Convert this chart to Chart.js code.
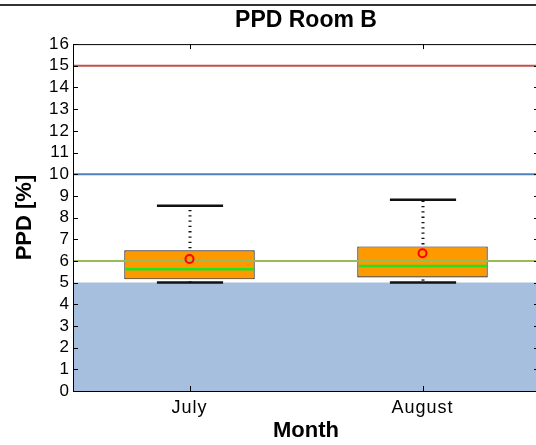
<!DOCTYPE html>
<html>
<head>
<meta charset="utf-8">
<script src="https://cdn.jsdelivr.net/npm/chart.js@4.4.1/dist/chart.umd.min.js"></script>
<style>
  html, body { margin: 0; padding: 0; background: #fff; overflow: hidden; }
  #wrap { width: 545px; height: 445px; }
</style>
</head>
<body>
<div id="wrap"><canvas id="ppdChart"></canvas></div>
<script>
// Box plot data per month (PPD %)
const months = ['July', 'August'];
const boxLow = [5.15, 5.24];      // lower quartile
const boxHigh = [6.49, 6.67];     // upper quartile
const medians = [5.62, 5.76];
const means = [6.09, 6.35];
const whiskerLow = [5.0, 5.0];
const whiskerHigh = [8.54, 8.82];

// Reference levels
const limitRed = 15;
const limitBlue = 10;
const limitGreen = 6;
const bandTop = 5;

const yTicks = [0, 1, 2, 3, 4, 5, 6, 7, 8, 9, 10, 11, 12, 13, 14, 15, 16];

const flatLine = v => [{ x: 0.5, y: v }, { x: 2.5, y: v }];

const boxPlotExtras = {
    id: 'boxPlotExtras',
    beforeDraw(chart) {
        const { ctx, width } = chart;
        ctx.letterSpacing = '0px';
        ctx.save();
        ctx.strokeStyle = '#333';
        ctx.lineWidth = 2;
        ctx.beginPath();
        ctx.moveTo(0, 5);
        ctx.lineTo(width, 5);
        ctx.stroke();
        ctx.restore();
    },
    afterDatasetsDraw(chart) {
        const { ctx, scales: { x, y } } = chart;
        const boxMeta = chart.getDatasetMeta(0);
        const step = x.getPixelForValue(1) - x.getPixelForValue(0);
        const seg = (x1, y1, x2, y2) => {
            ctx.beginPath();
            ctx.moveTo(x1, y1);
            ctx.lineTo(x2, y2);
            ctx.stroke();
        };
        ctx.save();
        months.forEach((m, i) => {
            const cx = Math.round(x.getPixelForValue(i));
            const half = boxMeta.data[i].width / 2;
            const capHalf = step * 0.142;

            // dotted whiskers
            ctx.strokeStyle = '#111';
            ctx.lineWidth = 3;
            ctx.setLineDash([1.3, 4]);
            seg(cx, y.getPixelForValue(boxHigh[i]) - 2, cx, y.getPixelForValue(whiskerHigh[i]));
            seg(cx, y.getPixelForValue(boxLow[i]) + 2, cx, y.getPixelForValue(whiskerLow[i]));
            ctx.setLineDash([]);

            // whisker caps
            ctx.lineWidth = 2.5;
            seg(cx - capHalf, y.getPixelForValue(whiskerHigh[i]), cx + capHalf, y.getPixelForValue(whiskerHigh[i]));
            seg(cx - capHalf, y.getPixelForValue(whiskerLow[i]), cx + capHalf, y.getPixelForValue(whiskerLow[i]));

            // median
            ctx.strokeStyle = '#22e022';
            ctx.lineWidth = 2.5;
            seg(cx - half + 1, y.getPixelForValue(medians[i]), cx + half - 1, y.getPixelForValue(medians[i]));
        });
        ctx.restore();
        // tick labels are drawn after this hook (ticks.z = 1): give them the wider spacing of the original
        ctx.letterSpacing = '1px';
    },
    afterDraw(chart) {
        const { ctx, chartArea: a, scales: { x, y } } = chart;
        ctx.letterSpacing = '0px';
        ctx.save();
        ctx.lineWidth = 1;
        ctx.strokeStyle = '#000';
        ctx.strokeRect(a.left + 0.5, a.top + 0.5, a.right - a.left - 1, a.bottom - a.top);
        // inward tick marks
        ctx.beginPath();
        yTicks.forEach(v => {
            const py = Math.round(y.getPixelForValue(v)) + 0.5;
            ctx.moveTo(a.left, py); ctx.lineTo(a.left + 5, py);
            ctx.moveTo(a.right, py); ctx.lineTo(a.right - 5, py);
        });
        months.forEach((m, i) => {
            const px = Math.round(x.getPixelForValue(i)) + 0.5;
            ctx.moveTo(px, a.bottom); ctx.lineTo(px, a.bottom - 5);
            ctx.moveTo(px, a.top); ctx.lineTo(px, a.top + 5);
        });
        ctx.stroke();
        ctx.restore();
    }
};

const ctx = document.getElementById('ppdChart').getContext('2d');

new Chart(ctx, {
    type: 'bar',
    data: {
        labels: months,
        datasets: [
            {
                label: 'Box',
                data: months.map((m, i) => [boxLow[i], boxHigh[i]]),
                backgroundColor: '#ff9900',
                borderColor: '#222',
                borderWidth: 1.2,
                borderSkipped: false,
                grouped: false,
                barPercentage: 0.56,
                categoryPercentage: 1,
                order: 5
            },
            {
                type: 'line',
                label: 'Mean',
                data: means,
                showLine: false,
                pointStyle: 'circle',
                pointRadius: 4,
                pointBorderWidth: 2,
                pointBorderColor: '#ff0000',
                pointBackgroundColor: 'rgba(0,0,0,0)',
                order: 1
            },
            {
                type: 'line',
                label: 'Limit 15',
                xAxisID: 'x2',
                data: flatLine(limitRed),
                borderColor: '#c0504d',
                borderWidth: 2,
                pointRadius: 0,
                order: 3
            },
            {
                type: 'line',
                label: 'Limit 10',
                xAxisID: 'x2',
                data: flatLine(limitBlue),
                borderColor: '#4f81bd',
                borderWidth: 2,
                pointRadius: 0,
                order: 3
            },
            {
                type: 'line',
                label: 'Limit 6',
                xAxisID: 'x2',
                data: flatLine(limitGreen),
                borderColor: '#9bbb59',
                borderWidth: 2,
                pointRadius: 0,
                order: 3
            },
            {
                type: 'line',
                label: 'Band',
                xAxisID: 'x2',
                data: flatLine(bandTop),
                borderWidth: 0,
                pointRadius: 0,
                backgroundColor: '#a7bfde',
                fill: 'origin',
                order: 10
            }
        ]
    },
    options: {
        responsive: true,
        maintainAspectRatio: false,
        animation: false,
        layout: { padding: 0 },
        plugins: {
            legend: { display: false },
            tooltip: { enabled: false },
            title: {
                display: true,
                fullSize: false,
                text: 'PPD Room B',
                color: '#000',
                font: { family: 'Arial, "Liberation Sans"', size: 23, weight: 'bold' },
                padding: { top: 7, bottom: 9.5 }
            }
        },
        scales: {
            x: {
                type: 'category',
                offset: true,
                grid: { display: false, drawTicks: false },
                border: { display: false },
                ticks: {
                    z: 1,
                    color: '#000',
                    padding: 6,
                    font: { family: 'Arial, "Liberation Sans"', size: 18 }
                },
                title: {
                    display: true,
                    text: 'Month',
                    color: '#000',
                    font: { family: 'Arial, "Liberation Sans"', size: 22, weight: 'bold' },
                    padding: { top: 0, bottom: 1 }
                },
                afterFit: s => { s.height = 54; }
            },
            x2: {
                type: 'linear',
                display: false,
                offset: false,
                min: 0.5,
                max: 2.5
            },
            y: {
                min: 0,
                max: 16,
                grid: { display: false, drawTicks: false },
                border: { display: false },
                ticks: {
                    z: 1,
                    stepSize: 1,
                    autoSkip: false,
                    color: '#000',
                    padding: 3,
                    font: { family: 'Arial, "Liberation Sans"', size: 17 }
                },
                title: {
                    display: true,
                    text: 'PPD [%]',
                    color: '#000',
                    font: { family: 'Arial, "Liberation Sans"', size: 22, weight: 'bold' },
                    padding: { top: 12, bottom: 0 }
                },
                afterFit: s => { s.width = 73; }
            }
        }
    },
    plugins: [boxPlotExtras]
});
</script>
</body>
</html>
